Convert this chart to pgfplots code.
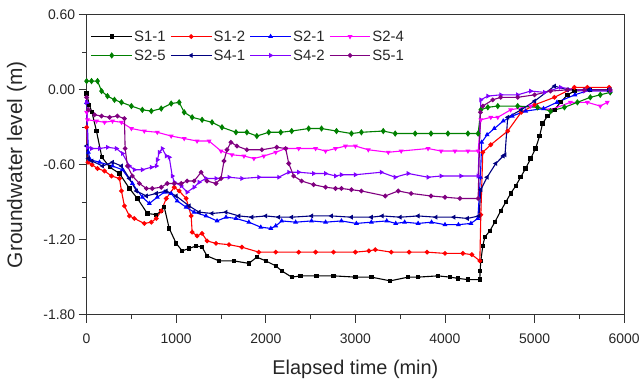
\documentclass[border=0pt]{standalone}
\usepackage{fontspec}
\setmainfont{Liberation Sans}
\usepackage{pgfplots}
\pgfplotsset{compat=1.18}
\definecolor{cS11}{RGB}{0,0,0}
\definecolor{cS12}{RGB}{255,0,0}
\definecolor{cS21}{RGB}{0,0,255}
\definecolor{cS24}{RGB}{255,0,255}
\definecolor{cS25}{RGB}{0,128,0}
\definecolor{cS41}{RGB}{0,0,128}
\definecolor{cS42}{RGB}{128,0,255}
\definecolor{cS51}{RGB}{128,0,128}
\begin{document}
\begin{tikzpicture}
\begin{axis}[
  name=ax,
  scale only axis,
  width=540pt, height=301pt,
  xmin=0, xmax=6000, ymin=-1.8, ymax=0.6,
  xtick={0,1000,...,6000},
  ytick={-1.8,-1.2,-0.6,0,0.6},
  minor xtick={500,1500,...,5500},
  minor ytick={-1.5,-0.9,-0.3,0.3},
  tick align=outside, xtick pos=bottom, ytick pos=left,
  major tick length=8pt, minor tick length=4.5pt,
  axis line style={line width=1.1pt, black!80},
  every tick/.style={black!80, line width=0.9pt},
  /pgf/number format/assume math mode=true,
  yticklabel style={/pgf/number format/fixed, /pgf/number format/fixed zerofill, /pgf/number format/precision=2, font=\fontsize{14}{16}\selectfont, text=black!85},
  xticklabel style={/pgf/number format/fixed, /pgf/number format/1000 sep={}, font=\fontsize{14}{16}\selectfont, text=black!85, yshift=-8pt},
  scaled ticks=false,
  xlabel={Elapsed time (min)}, ylabel={Groundwater level (m)},
  xlabel style={font=\fontsize{20}{22}\selectfont, yshift=-9pt, text=black!85},
  ylabel style={font=\fontsize{21}{23}\selectfont, yshift=10pt, text=black!85},
  legend columns=4,
  legend style={at={(0,1)}, anchor=north west, xshift=3pt, yshift=-13pt, draw=none, fill=none, font=\fontsize{15}{17}\selectfont, row sep=4pt, inner sep=1pt, nodes={inner sep=1.5pt, text height=11pt, text depth=1pt, text=black!85}},
  /tikz/every even column/.append style={column sep=3pt},
  legend image code/.code={\draw (0pt,0pt) -- (41pt,0pt); \draw plot coordinates {(20.5pt,0pt)};},
  every axis plot/.append style={line width=1.1pt, mark size=1.8pt},
]
\addplot[cS11, mark=square*, mark options={scale=0.9}] coordinates {(0,-0.03) (30,-0.12) (60,-0.18) (110,-0.33) (170,-0.54) (260,-0.62) (367,-0.67) (478,-0.79) (567,-0.87) (678,-0.99) (778,-1.00) (833,-0.97) (867,-0.94) (922,-1.11) (1000,-1.23) (1067,-1.29) (1144,-1.27) (1222,-1.25) (1289,-1.26) (1344,-1.33) (1478,-1.37) (1644,-1.37) (1811,-1.39) (1900,-1.34) (2000,-1.37) (2111,-1.41) (2178,-1.45) (2289,-1.50) (2389,-1.49) (2567,-1.49) (2756,-1.49) (3000,-1.50) (3178,-1.50) (3389,-1.53) (3589,-1.50) (3700,-1.50) (3922,-1.49) (4055,-1.50) (4144,-1.51) (4256,-1.52) (4389,-1.52) (4392,-1.45) (4400,-1.37) (4422,-1.25) (4444,-1.18) (4500,-1.13) (4556,-1.06) (4622,-0.97) (4678,-0.90) (4733,-0.83) (4789,-0.77) (4844,-0.70) (4900,-0.63) (4956,-0.55) (5011,-0.47) (5056,-0.37) (5089,-0.27) (5144,-0.21) (5222,-0.16) (5289,-0.10) (5367,-0.04) (5444,-0.01) (5622,0.00) (5833,0.00)};
\addlegendentry{S1-1}
\addplot[cS12, mark=*] coordinates {(0,-0.30) (15,-0.58) (60,-0.60) (122,-0.63) (200,-0.65) (278,-0.69) (367,-0.71) (389,-0.81) (422,-0.93) (478,-1.01) (533,-1.03) (644,-1.07) (722,-1.06) (778,-1.03) (833,-0.97) (889,-0.87) (978,-0.78) (1033,-0.81) (1111,-0.87) (1167,-1.01) (1178,-1.14) (1233,-1.17) (1289,-1.15) (1344,-1.21) (1444,-1.23) (1589,-1.24) (1733,-1.26) (1922,-1.30) (2111,-1.30) (2367,-1.30) (2556,-1.30) (2756,-1.30) (3000,-1.30) (3150,-1.29) (3222,-1.28) (3400,-1.30) (3600,-1.30) (3800,-1.30) (4000,-1.31) (4200,-1.31) (4300,-1.32) (4389,-1.37) (4400,-1.00) (4422,-0.50) (4511,-0.44) (4700,-0.33) (4850,-0.18) (5000,-0.12) (5222,-0.06) (5444,0.02) (5589,0.02) (5833,0.02)};
\addlegendentry{S1-2}
\addplot[cS21, mark=triangle*] coordinates {(0,-0.10) (20,-0.50) (40,-0.56) (144,-0.58) (289,-0.61) (400,-0.64) (511,-0.75) (622,-0.86) (700,-0.91) (789,-0.86) (867,-0.82) (944,-0.83) (1011,-0.89) (1111,-0.94) (1200,-0.98) (1333,-1.01) (1456,-1.05) (1556,-1.02) (1667,-1.03) (1811,-1.06) (1944,-1.10) (2056,-1.11) (2111,-1.09) (2178,-1.05) (2333,-1.06) (2511,-1.05) (2667,-1.06) (2844,-1.05) (3011,-1.07) (3178,-1.06) (3350,-1.05) (3450,-1.07) (3550,-1.06) (3700,-1.07) (3850,-1.06) (4000,-1.08) (4150,-1.08) (4289,-1.07) (4367,-1.03) (4395,-0.70) (4410,-0.42) (4470,-0.36) (4550,-0.31) (4650,-0.25) (4750,-0.21) (4900,-0.17) (5100,-0.15) (5250,-0.10) (5450,-0.04) (5620,0.00) (5833,0.00)};
\addlegendentry{S2-1}
\addplot[cS24, mark=triangle*, mark options={rotate=180}] coordinates {(0,-0.18) (10,-0.24) (111,-0.25) (200,-0.26) (289,-0.25) (389,-0.26) (500,-0.31) (644,-0.33) (789,-0.34) (944,-0.37) (1089,-0.39) (1233,-0.41) (1367,-0.41) (1500,-0.49) (1622,-0.52) (1756,-0.53) (1867,-0.55) (1978,-0.53) (2111,-0.50) (2222,-0.47) (2367,-0.47) (2556,-0.47) (2667,-0.49) (2778,-0.47) (2889,-0.45) (3000,-0.45) (3144,-0.48) (3367,-0.50) (3511,-0.49) (3811,-0.47) (3956,-0.49) (4111,-0.49) (4256,-0.49) (4370,-0.49) (4400,-0.24) (4511,-0.22) (4589,-0.22) (4733,-0.16) (4956,-0.13) (5178,-0.16) (5400,-0.10) (5589,-0.10) (5733,-0.13) (5811,-0.10)};
\addlegendentry{S2-4}
\addplot[cS25, mark=diamond*, mark options={scale=1.3}] coordinates {(0,0.07) (55,0.07) (122,0.07) (167,-0.01) (233,-0.05) (311,-0.08) (389,-0.10) (500,-0.13) (622,-0.16) (722,-0.17) (833,-0.15) (944,-0.11) (1033,-0.10) (1089,-0.18) (1178,-0.22) (1289,-0.24) (1400,-0.26) (1511,-0.30) (1667,-0.34) (1789,-0.34) (1900,-0.37) (2033,-0.34) (2167,-0.34) (2289,-0.33) (2478,-0.31) (2622,-0.31) (2789,-0.33) (2956,-0.35) (3067,-0.34) (3311,-0.33) (3444,-0.35) (3667,-0.35) (3844,-0.35) (4033,-0.35) (4256,-0.35) (4370,-0.35) (4400,-0.16) (4478,-0.14) (4589,-0.13) (4811,-0.13) (5033,-0.14) (5178,-0.17) (5333,-0.14) (5478,-0.10) (5622,-0.06) (5733,-0.04) (5844,-0.02)};
\addlegendentry{S2-5}
\addplot[cS41, mark=triangle*, mark options={rotate=90}] coordinates {(0,-0.45) (20,-0.55) (60,-0.57) (178,-0.61) (289,-0.58) (389,-0.61) (478,-0.71) (556,-0.81) (667,-0.85) (778,-0.83) (889,-0.81) (1000,-0.85) (1144,-0.93) (1256,-0.98) (1400,-0.99) (1556,-0.98) (1700,-1.01) (1844,-1.02) (2000,-1.01) (2144,-1.02) (2289,-1.02) (2511,-1.01) (2733,-1.01) (2956,-1.02) (3178,-1.02) (3300,-1.01) (3500,-1.02) (3700,-1.01) (3900,-1.02) (4100,-1.02) (4250,-1.03) (4380,-1.01) (4400,-0.80) (4470,-0.70) (4567,-0.59) (4650,-0.53) (4670,-0.52) (4700,-0.22) (4850,-0.16) (5000,-0.09) (5222,0.03) (5367,0.00) (5600,0.00) (5844,0.00)};
\addlegendentry{S4-1}
\addplot[cS42, mark=triangle*, mark options={rotate=-90}] coordinates {(0,-0.10) (10,-0.46) (55,-0.47) (144,-0.47) (233,-0.46) (333,-0.47) (400,-0.51) (478,-0.61) (533,-0.64) (622,-0.64) (722,-0.62) (778,-0.61) (790,-0.56) (811,-0.50) (844,-0.47) (889,-0.53) (922,-0.54) (956,-0.69) (980,-0.74) (1056,-0.77) (1122,-0.82) (1200,-0.78) (1256,-0.74) (1333,-0.71) (1444,-0.71) (1589,-0.70) (1733,-0.71) (1922,-0.70) (2144,-0.70) (2256,-0.66) (2367,-0.66) (2533,-0.67) (2667,-0.67) (2778,-0.69) (2844,-0.68) (3000,-0.68) (3289,-0.66) (3444,-0.70) (3589,-0.67) (3811,-0.70) (3956,-0.69) (4178,-0.69) (4370,-0.69) (4400,-0.08) (4478,-0.05) (4622,-0.04) (4811,-0.04) (4956,-0.01) (5111,-0.02) (5289,0.02) (5556,-0.01) (5844,-0.01)};
\addlegendentry{S4-2}
\addplot[cS51, mark=*] coordinates {(0,-0.06) (20,-0.16) (89,-0.20) (167,-0.21) (256,-0.22) (344,-0.21) (422,-0.23) (430,-0.47) (456,-0.61) (511,-0.69) (589,-0.75) (667,-0.79) (733,-0.79) (833,-0.78) (900,-0.75) (978,-0.75) (1056,-0.75) (1122,-0.73) (1200,-0.73) (1278,-0.66) (1344,-0.73) (1444,-0.75) (1500,-0.71) (1533,-0.57) (1567,-0.48) (1611,-0.42) (1678,-0.45) (1789,-0.48) (1956,-0.48) (2122,-0.46) (2222,-0.47) (2256,-0.59) (2311,-0.69) (2400,-0.73) (2533,-0.76) (2667,-0.78) (2778,-0.79) (2844,-0.79) (2956,-0.80) (3067,-0.81) (3333,-0.85) (3478,-0.81) (3622,-0.83) (3844,-0.85) (4000,-0.86) (4167,-0.87) (4370,-0.87) (4395,-0.18) (4422,-0.13) (4533,-0.08) (4622,-0.06) (4811,-0.06) (5000,-0.04) (5178,-0.01) (5367,0.00) (5556,0.00) (5844,0.00)};
\addlegendentry{S5-1}
\end{axis}
\path ([shift={(-87pt,-71pt)}]ax.south west) rectangle ([shift={(16pt,15pt)}]ax.north east);
\end{tikzpicture}
\end{document}
